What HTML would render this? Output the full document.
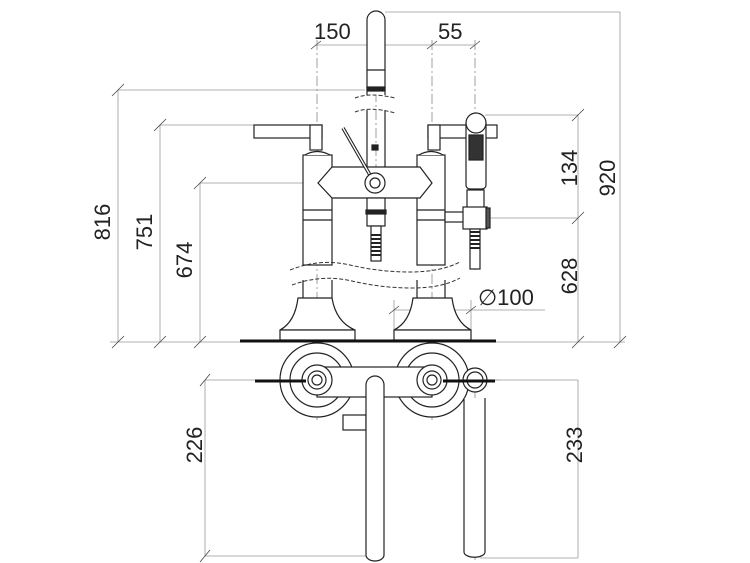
<!DOCTYPE html>
<html><head><meta charset="utf-8"><style>
html,body{margin:0;padding:0;background:#fff}
svg{display:block}
text{font-family:"Liberation Sans",sans-serif;font-size:22px;fill:#222}
</style></head><body>
<svg width="750" height="563" viewBox="0 0 750 563" xmlns="http://www.w3.org/2000/svg">
<g fill="none" stroke="#999" stroke-width="0.8">
<line x1="118" y1="90" x2="365" y2="90"/>
<line x1="160" y1="125" x2="254" y2="125"/>
<line x1="200" y1="183" x2="318" y2="183"/>
<line x1="118" y1="90" x2="118" y2="342"/>
<line x1="160" y1="125" x2="160" y2="342"/>
<line x1="200" y1="183" x2="200" y2="342"/>
<line x1="110" y1="342" x2="240" y2="342"/>
<line x1="495" y1="342" x2="625" y2="342"/>
<line x1="385" y1="12" x2="620" y2="12"/>
<line x1="620" y1="12" x2="620" y2="342"/>
<line x1="485" y1="115" x2="578" y2="115"/>
<line x1="490" y1="218" x2="578" y2="218"/>
<line x1="578" y1="115" x2="578" y2="342"/>
<line x1="315" y1="45" x2="475" y2="45"/>
<line x1="394" y1="310" x2="545" y2="310"/>
<line x1="394" y1="300" x2="394" y2="340"/>
<line x1="471" y1="300" x2="471" y2="340"/>
<line x1="205" y1="380" x2="500" y2="380"/>
<line x1="205" y1="380" x2="205" y2="556"/>
<line x1="205" y1="556" x2="375" y2="556"/>
<line x1="480" y1="558" x2="578" y2="558"/>
<line x1="578" y1="380" x2="578" y2="558"/>
<line x1="490" y1="380" x2="578" y2="380"/>
</g>
<g stroke="#444" stroke-width="0.8">
<line x1="112" y1="96" x2="124" y2="84"/><line x1="154" y1="131" x2="166" y2="119"/>
<line x1="194" y1="189" x2="206" y2="177"/><line x1="112" y1="348" x2="124" y2="336"/>
<line x1="154" y1="348" x2="166" y2="336"/><line x1="194" y1="348" x2="206" y2="336"/>
<line x1="572" y1="121" x2="584" y2="109"/><line x1="572" y1="224" x2="584" y2="212"/>
<line x1="572" y1="348" x2="584" y2="336"/><line x1="614" y1="348" x2="626" y2="336"/>
<line x1="311" y1="49" x2="321" y2="41"/><line x1="427" y1="49" x2="437" y2="41"/><line x1="470" y1="49" x2="480" y2="41"/>
<line x1="389" y1="314" x2="399" y2="306"/><line x1="466" y1="314" x2="476" y2="306"/>
<line x1="200" y1="386" x2="210" y2="374"/><line x1="200" y1="562" x2="210" y2="550"/>
</g>
<g stroke="#777" stroke-width="0.7" stroke-dasharray="10,3,2,3">
<line x1="317" y1="40" x2="317" y2="345"/>
<line x1="432" y1="40" x2="432" y2="345"/>
<line x1="475" y1="40" x2="475" y2="270"/>
<line x1="376" y1="20" x2="376" y2="260"/>
<line x1="317" y1="345" x2="317" y2="420"/>
<line x1="432" y1="345" x2="432" y2="420"/>
<line x1="375" y1="375" x2="375" y2="560"/>
<line x1="475" y1="370" x2="475" y2="560"/>
</g>
<g fill="#fff" stroke="#222" stroke-width="1.2">
<path d="M367,95 V20 a9,9 0 0 1 18,0 V95"/>
<line x1="367" y1="70" x2="385" y2="70"/>
<rect x="367" y="87" width="18" height="4" fill="#222"/>
<path d="M367,110 V167 M385,110 V167"/>
<rect x="372" y="145" width="6" height="5" fill="#222"/>
<rect x="303" y="155" width="29" height="110"/>
<rect x="417" y="155" width="28" height="110"/>
<line x1="303" y1="210" x2="332" y2="210"/><line x1="303" y1="220" x2="332" y2="220"/>
<line x1="417" y1="210" x2="445" y2="210"/><line x1="417" y1="220" x2="445" y2="220"/>
<path d="M303,280 V298 M332,280 V298 M417,280 V298 M445,280 V298"/>
<path d="M305,155 Q317,148 330,155 M419,155 Q431,148 443,155"/>
<rect x="254" y="125" width="68" height="13"/>
<rect x="310" y="125" width="12" height="25"/>
<rect x="428" y="125" width="69" height="13"/>
<rect x="428" y="125" width="12" height="25"/>
<polygon points="318,183 332,167 420,167 432,183 420,198 332,198"/>
<rect x="367" y="198" width="18" height="28"/>
<rect x="366" y="210" width="20" height="4" fill="#222"/>
<rect x="371" y="226" width="10" height="35" fill="#fff"/>
<path d="M371,235 h10 M371,239 h10 M371,243 h10 M371,247 h10 M371,251 h10 M371,255 h10" stroke-width="2"/>
<line x1="343" y1="128" x2="374" y2="182" stroke-width="3.5"/>
<line x1="343" y1="128" x2="374" y2="182" stroke="#fff" stroke-width="1.3"/>
<circle cx="375" cy="183" r="10"/>
<circle cx="375" cy="183" r="5"/>
<path d="M466,123 V185 a4,4 0 0 0 4,4 h12 a4,4 0 0 0 4,-4 V123"/>
<circle cx="476" cy="123" r="10"/>
<rect x="469" y="135" width="14" height="25" fill="#333"/>
<rect x="467" y="190" width="17" height="20"/>
<rect x="445" y="212" width="20" height="10"/>
<rect x="463" y="207" width="24" height="22"/>
<rect x="486" y="208" width="4" height="20" fill="#555"/>
<rect x="470" y="229" width="10" height="40"/>
<path d="M470,232 h10 M470,236 h10 M470,240 h10 M470,244 h10 M470,248 h10" stroke-width="2"/>
<path d="M298,298 H332 Q336,322 355,330 H280 Q295,322 298,298Z"/>
<rect x="280" y="330" width="75" height="10"/>
<path d="M413,298 H452 Q455,322 471,330 H394 Q410,322 413,298Z"/>
<rect x="394" y="330" width="77" height="10"/>
</g>
<g fill="none" stroke="#333" stroke-width="1" stroke-dasharray="4,2">
<path d="M355,98 Q370,92 395,98"/><path d="M355,112 Q370,106 395,113"/>
<path d="M290,270 Q320,258 350,265 T410,272 T460,262"/>
<path d="M292,285 Q322,274 352,281 T412,288 T460,278"/>
</g>
<line x1="240" y1="341" x2="496" y2="341" stroke="#111" stroke-width="3"/>
<g fill="#fff" stroke="#222" stroke-width="1.2">
<circle cx="317" cy="380" r="37"/><circle cx="317" cy="380" r="27"/>
<circle cx="432" cy="380" r="37"/><circle cx="432" cy="380" r="27"/>
<rect x="317" y="367" width="115" height="30"/>
<circle cx="317" cy="380" r="15"/><circle cx="317" cy="380" r="9"/><circle cx="317" cy="380" r="5"/>
<circle cx="432" cy="380" r="15"/><circle cx="432" cy="380" r="9"/><circle cx="432" cy="380" r="5"/>
<rect x="343" y="415" width="23" height="15"/>
<path d="M366,555 V385 a9,9 0 0 1 18,0 V555 a9,6 0 0 1 -18,0Z"/>
<path d="M464,398 V552 a10,5 0 0 0 21,0 V398"/>
<circle cx="475" cy="380" r="12"/>
<circle cx="475" cy="380" r="8"/>
</g>
<line x1="255" y1="381" x2="306" y2="381" stroke="#111" stroke-width="3"/>
<line x1="443" y1="381" x2="495" y2="381" stroke="#111" stroke-width="3"/>
<text x="314" y="39">150</text>
<text x="438" y="39">55</text>
<text x="478" y="305">∅100</text>
<text transform="translate(110,222) rotate(-90)" text-anchor="middle">816</text>
<text transform="translate(152,232) rotate(-90)" text-anchor="middle">751</text>
<text transform="translate(192,260) rotate(-90)" text-anchor="middle">674</text>
<text transform="translate(577,168) rotate(-90)" text-anchor="middle">134</text>
<text transform="translate(615,178) rotate(-90)" text-anchor="middle">920</text>
<text transform="translate(577,276) rotate(-90)" text-anchor="middle">628</text>
<text transform="translate(202,445) rotate(-90)" text-anchor="middle">226</text>
<text transform="translate(582,445) rotate(-90)" text-anchor="middle">233</text>
</svg>
</body></html>
